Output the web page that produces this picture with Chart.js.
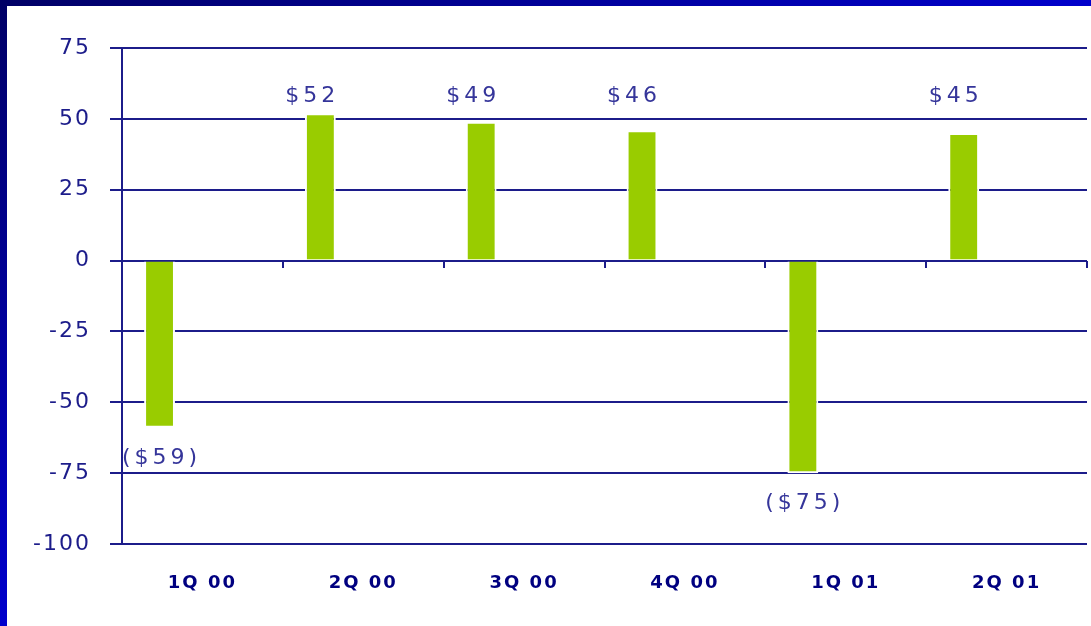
<!DOCTYPE html>
<html>
<head>
<meta charset="utf-8">
<script src="https://cdn.jsdelivr.net/npm/chart.js@4.4.1/dist/chart.umd.min.js"></script>
<style>
  html, body { margin: 0; padding: 0; width: 1091px; height: 626px; overflow: hidden; background: #ffffff; }
  #frame-top { position: absolute; left: 0; top: 0; width: 1091px; height: 6px; background: linear-gradient(to right, #000066, #0000cc); }
  #frame-left { position: absolute; left: 0; top: 0; width: 7px; height: 626px; background: linear-gradient(to bottom, #000066, #0000cc); }
  #wrap { position: absolute; left: 0; top: 0; width: 1091px; height: 626px; }
</style>
</head>
<body>
<div id="frame-top"></div>
<div id="frame-left"></div>
<div id="wrap"><canvas id="chart"></canvas></div>
<script>
const quarters = ["1Q 00", "2Q 00", "3Q 00", "4Q 00", "1Q 01", "2Q 01"];
const netIncome = [-59, 52, 49, 46, -75, 45];
const valueLabels = ["($59)", "$52", "$49", "$46", "($75)", "$45"];
// the source chart has two more (empty) series, which is why bars sit left of centre
const emptySeries = [null, null, null, null, null, null];

const navy = "#1c1c8a";
const labelBlue = "#35359a";
const barGreen = "#99cc00";

const spacingPlugin = {
  id: "spacing",
  beforeDraw(chart) {
    chart.ctx.letterSpacing = "2px";
  },
};

const valueLabelPlugin = {
  id: "valueLabels",
  afterDatasetsDraw(chart) {
    const ctx = chart.ctx;
    const meta = chart.getDatasetMeta(0);
    const yScale = chart.scales.y;
    ctx.save();
    ctx.font = "22px 'DejaVu Sans'";
    ctx.letterSpacing = "4px";
    ctx.fillStyle = labelBlue;
    ctx.textAlign = "center";
    ctx.textBaseline = "middle";
    meta.data.forEach((bar, i) => {
      const v = netIncome[i];
      if (v >= 0) {
        ctx.fillText(valueLabels[i], bar.x - 8, yScale.getPixelForValue(58));
      } else {
        ctx.fillText(valueLabels[i], bar.x + 2, bar.y + 30);
      }
    });
    ctx.restore();
  },
};

new Chart(document.getElementById("chart"), {
  type: "bar",
  data: {
    labels: quarters,
    datasets: [
      {
        label: "Net income",
        data: netIncome,
        backgroundColor: barGreen,
        borderColor: "#ffffff",
        borderWidth: 2,
        borderSkipped: "start",
        categoryPercentage: 0.8,
        barPercentage: 0.72,
      },
      { label: "", data: emptySeries, categoryPercentage: 0.8, barPercentage: 0.72 },
      { label: "", data: emptySeries, categoryPercentage: 0.8, barPercentage: 0.72 },
    ],
  },
  options: {
    responsive: true,
    maintainAspectRatio: false,
    animation: false,
    layout: { padding: { top: 48, right: 4, left: 0, bottom: 0 } },
    plugins: { legend: { display: false }, tooltip: { enabled: false } },
    scales: {
      x: {
        type: "category",
        position: "bottom",
        offset: true,
        grid: { display: false, drawTicks: false },
        border: { display: false },
        ticks: {
          color: "#000080",
          font: { family: "'DejaVu Sans'", size: 18, weight: "bold" },
          padding: 29,
          maxRotation: 0,
        },
        afterFit(scale) {
          scale.height = 82;
        },
      },
      x2: {
        type: "category",
        labels: quarters,
        position: { y: 0 },
        offset: true,
        grid: {
          offset: true,
          drawOnChartArea: false,
          drawTicks: true,
          tickLength: 7,
          color: navy,
          lineWidth: 2,
        },
        border: { display: false },
        ticks: { display: false },
      },
      y: {
        min: -100,
        max: 75,
        ticks: {
          stepSize: 25,
          color: navy,
          font: { family: "'DejaVu Sans'", size: 22 },
          padding: 19,
        },
        grid: { color: navy, lineWidth: 2, tickLength: 12 },
        border: { display: true, color: navy, width: 2 },
        afterFit(scale) {
          scale.width = 122;
        },
      },
    },
  },
  plugins: [spacingPlugin, valueLabelPlugin],
});
</script>
</body>
</html>
